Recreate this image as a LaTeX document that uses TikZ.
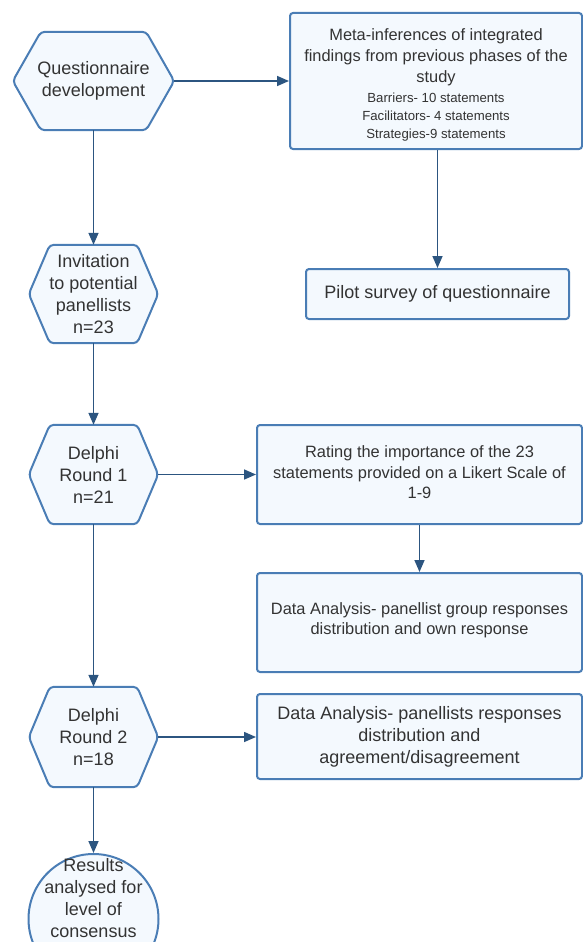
\documentclass[tikz,border=0pt]{standalone}
\usepackage{fontspec}
\setmainfont{Liberation Sans}
\usetikzlibrary{arrows.meta,backgrounds,calc}
\definecolor{strokeblue}{HTML}{4A7DB5}
\definecolor{fillblue}{HTML}{F4F9FE}
\definecolor{arrowblue}{HTML}{2C5580}
\definecolor{txtgray}{HTML}{333333}
\newcommand{\bigsz}{\fontsize{18}{22}\selectfont}
\newcommand{\medsz}{\fontsize{16.4}{20.5}\selectfont}
\newcommand{\metasz}{\fontsize{16.4}{21}\selectfont}
\newcommand{\smallsz}{\fontsize{13.2}{17.5}\selectfont}
\newcommand{\hexbg}[2]{%
  \begin{pgfonlayer}{background}
  \path[hexshape] (#1.west) -- ([xshift=#2]#1.north west) -- ([xshift=-#2]#1.north east) -- (#1.east) -- ([xshift=-#2]#1.south east) -- ([xshift=#2]#1.south west) -- cycle;
  \end{pgfonlayer}}
\tikzset{
  hexshape/.style={draw=strokeblue, fill=fillblue, line width=2pt, rounded corners=4pt},
  hexnode/.style={inner sep=0pt, align=center, text=txtgray, font=\bigsz},
  boxnode/.style={draw=strokeblue, fill=fillblue, line width=2pt, rounded corners=3pt, inner sep=0pt, align=center, text=txtgray, font=\bigsz},
  endcirc/.style={circle, draw=strokeblue, fill=fillblue, line width=2pt, inner sep=0pt, minimum size=130pt},
  txtnode/.style={inner sep=0pt, align=center, text=txtgray, font=\bigsz},
  medtxt/.style={inner sep=0pt, align=center, text=txtgray, font=\medsz},
  flow/.style={draw=arrowblue, line width=1.6pt, -{Triangle[length=12pt,width=10pt]}}
}
\begin{document}
\begin{tikzpicture}[x=1pt,y=-1pt]
\useasboundingbox (0,0) rectangle (583,942);

% left column
\node[hexnode, minimum width=161pt, minimum height=98pt] (q) at (93.5,81) {Questionnaire\\development};
\hexbg{q}{28pt}
\node[hexnode, minimum width=129pt, minimum height=98pt] (inv) at (93.5,294) {Invitation\\to potential\\panellists\\n=23};
\hexbg{inv}{21pt}
\node[hexnode, minimum width=129pt, minimum height=99pt] (r1) at (93.5,474.5) {Delphi\\Round 1\\n=21};
\hexbg{r1}{21pt}
\node[hexnode, minimum width=129pt, minimum height=100pt] (r2) at (93.5,737) {Delphi\\Round 2\\n=18};
\hexbg{r2}{21pt}
\node[endcirc] (res) at (93.5,919) {};
\node[txtnode] (restxt) at (93.5,898.5) {Results\\analysed for\\level of\\consensus};

% right column
\node[boxnode, minimum width=292pt, minimum height=136pt] (meta) at (436,81) {};
\node[medtxt, font=\metasz] (metatxt) at (436,85) {Meta-inferences of integrated\\findings from previous phases of the\\study\\[-1pt]{\smallsz Barriers- 10 statements}\\[-3pt]{\smallsz Facilitators- 4 statements}\\[-3pt]{\smallsz Strategies-9 statements}};
\node[boxnode, minimum width=263pt, minimum height=50pt] (pilot) at (437.5,294) {Pilot survey of questionnaire};
\node[boxnode, minimum width=325pt, minimum height=99pt] (rate) at (419.5,474.5) {};
\node[medtxt] (ratetxt) at (419.5,472.5) {Rating the importance of the 23\\statements provided on a Likert Scale of\\1-9};
\node[boxnode, minimum width=325pt, minimum height=99pt] (da1) at (419.5,622.5) {};
\node[medtxt] (da1txt) at (419.5,620.5) {Data Analysis- panellist group responses\\distribution and own response};
\node[boxnode, minimum width=325pt, minimum height=85pt] (da2) at (419.5,736.5) {Data Analysis- panellists responses\\distribution and\\agreement/disagreement};

% connectors
\draw[flow] (q.east) -- (meta.west |- q.east);
\draw[flow] (q.south) -- (inv.north);
\draw[flow] (meta.south -| pilot.north) -- (pilot.north);
\draw[flow] (inv.south) -- (r1.north);
\draw[flow] (r1.east) -- (rate.west |- r1.east);
\draw[flow] (rate.south) -- (da1.north);
\draw[flow] (r1.south) -- (r2.north);
\draw[flow] (r2.east) -- (da2.west |- r2.east);
\draw[flow] (r2.south) -- (res.north);
\end{tikzpicture}
\end{document}
